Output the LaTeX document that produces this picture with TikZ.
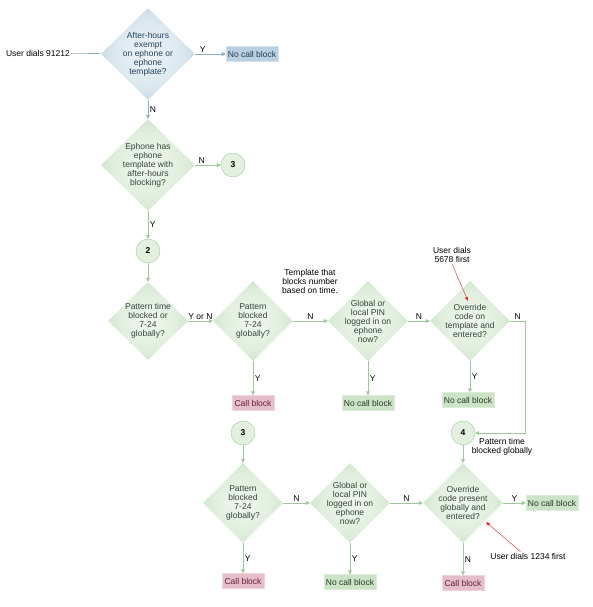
\documentclass[tikz,border=0pt]{standalone}
\usepackage{fontspec}
\setmainfont{Liberation Sans}
\usepackage{xcolor}
\usetikzlibrary{shapes.geometric,arrows.meta,positioning}
\definecolor{flowLine}{HTML}{9FC79B}
\definecolor{flowBlueLine}{HTML}{8DB2C8}
\definecolor{dmdLite}{HTML}{F0F7EE}
\definecolor{dmdDark}{HTML}{B3D6AE}
\definecolor{dmdText}{HTML}{34463A}
\definecolor{bdmdLite}{HTML}{EEF4F8}
\definecolor{bdmdDark}{HTML}{A4C3D6}
\definecolor{bdmdText}{HTML}{25435E}
\definecolor{blockFill}{HTML}{E4BECA}
\definecolor{blockDraw}{HTML}{EFD4DC}
\definecolor{blockText}{HTML}{6A1C3B}
\definecolor{okFill}{HTML}{CDE3C8}
\definecolor{okDraw}{HTML}{DDECD9}
\definecolor{okText}{HTML}{213C22}
\definecolor{okBlueFill}{HTML}{B8D0E0}
\definecolor{okBlueDraw}{HTML}{D3E2EC}
\definecolor{okBlueText}{HTML}{1F3E58}
\definecolor{conFill}{HTML}{E3F0E0}
\definecolor{dialRed}{HTML}{E8202A}
\newcommand\flowfont{\fontsize{8.5}{9}\selectfont}
\pgfdeclareradialshading{greenDmd}{\pgfpoint{0bp}{0bp}}{color(0bp)=(dmdLite);
  color(18bp)=(dmdLite!75!dmdDark); color(40bp)=(dmdDark); color(50bp)=(dmdDark)}
\pgfdeclareradialshading{blueDmd}{\pgfpoint{0bp}{0bp}}{color(0bp)=(bdmdLite);
  color(18bp)=(bdmdLite!75!bdmdDark); color(40bp)=(bdmdDark); color(50bp)=(bdmdDark)}
\tikzset{
  decision/.style={diamond,shade,shading=greenDmd,minimum width=80pt,
    minimum height=80pt,inner sep=-8pt,align=center,text=dmdText,font=\flowfont},
  bigdecision/.style={decision,minimum width=94pt,minimum height=92pt},
  bluedecision/.style={bigdecision,shading=blueDmd,text=bdmdText},
  callblock/.style={rectangle,draw=blockDraw,fill=blockFill,text=blockText,
    minimum height=15pt,inner xsep=2.5pt,inner ysep=0pt,font=\flowfont},
  noblock/.style={rectangle,draw=okDraw,fill=okFill,text=okText,
    minimum height=15pt,inner xsep=2pt,inner ysep=0pt,font=\flowfont},
  blueblock/.style={noblock,draw=okBlueDraw,fill=okBlueFill,text=okBlueText},
  connector/.style={circle,draw=flowLine,fill=conFill,minimum size=24pt,
    inner sep=0pt,font=\flowfont\bfseries},
  plain/.style={align=center,font=\flowfont,inner sep=1pt},
  flowlabel/.style={font=\flowfont,inner sep=1.5pt},
  arrow/.style={-{Triangle[length=4pt,width=4pt]},draw=flowLine,semithick},
  bluearrow/.style={arrow,draw=flowBlueLine},
  redarrow/.style={-{Triangle[length=4pt,width=3pt]},draw=dialRed,thin}
}
\begin{document}
\begin{tikzpicture}[x=1pt,y=1pt]
\useasboundingbox (0,0) rectangle (592,-607);
\node[bluedecision] (exempt) at (148,-54) {After-hours\\exempt\\on ephone or\\ephone\\template?};
\node[plain, anchor=east] (dialA) at (71,-53) {User dials 91212};
\node[blueblock, right of=exempt, node distance=104pt] (okA) {No call block};
\node[bigdecision, below of=exempt, node distance=111pt] (hastmpl) {Ephone has\\ephone\\template with\\after-hours\\blocking?};
\node[connector, right of=hastmpl, node distance=85pt] (conA) {3};
\node[connector, below of=hastmpl, node distance=86pt] (conB) {2};
\node[decision, below of=conB, node distance=70pt, minimum height=78pt] (pattime) {Pattern time\\blocked or\\7-24\\globally?};
\node[decision, right of=pattime, node distance=105pt] (patday) {Pattern\\blocked\\7-24\\globally?};
\node[callblock, below of=patday, node distance=82pt] (blockA) {Call block};
\node[plain] (tmplnote) at (310,-281) {Template that\\blocks number\\based on time.};
\node[decision, right of=patday, node distance=115pt] (pinA) {Global or\\local PIN\\logged in on\\ephone\\now?};
\node[noblock, below of=pinA, node distance=82pt] (okB) {No call block};
\node[decision, right of=pinA, node distance=102pt] (ovrA) {Override\\code on\\template and\\entered?};
\node[noblock, below of=ovrA, node distance=79pt, xshift=-2pt] (okC) {No call block};
\node[plain] (dialB) at (452,-255) {User dials\\5678 first};
\coordinate (tipB) at (468,-301);
\node[connector, below of=ovrA, node distance=112pt, xshift=-7pt] (conD) {4};
\node[plain] (globnote) at (502,-447) {Pattern time\\blocked globally};
\node[connector] (conC) at (243,-433) {3};
\node[decision, below of=conC, node distance=70pt] (patglob) {Pattern\\blocked\\7-24\\globally?};
\node[callblock, below of=patglob, node distance=78pt] (blockB) {Call block};
\node[decision, right of=patglob, node distance=107pt] (pinB) {Global or\\local PIN\\logged in on\\ephone\\now?};
\node[noblock, below of=pinB, node distance=79pt] (okD) {No call block};
\node[decision, right of=pinB, node distance=113pt] (ovrB) {Override\\code present\\globally and\\entered?};
\node[noblock, right of=ovrB, node distance=89pt] (okE) {No call block};
\node[callblock, below of=ovrB, node distance=80pt] (blockC) {Call block};
\node[plain] (dialC) at (528,-556) {User dials 1234 first};
\coordinate (tipC) at (486,-522);

\draw[draw=flowBlueLine, semithick] (dialA) -- (exempt);
\draw[bluearrow] (exempt) -- node[flowlabel, above, pos=0.25] {Y} (okA);
\draw[bluearrow] (exempt) -- node[flowlabel, right] {N} (hastmpl);
\draw[arrow] (hastmpl) -- node[flowlabel, above, pos=0.25] {N} (conA);
\draw[arrow] (hastmpl) -- node[flowlabel, right] {Y} (conB);
\draw[arrow] (conB) -- (pattime);
\draw[arrow] (pattime) -- node[flowlabel, above] {Y or N} (patday);
\draw[arrow] (patday) -- node[flowlabel, right] {Y} (blockA);
\draw[arrow] (patday) -- node[flowlabel, above] {N} (pinA);
\draw[arrow] (pinA) -- node[flowlabel, right] {Y} (okB);
\draw[arrow] (pinA) -- node[flowlabel, above] {N} (ovrA);
\draw[arrow] (ovrA.south) -- node[flowlabel, right] {Y} (okC.north -| ovrA.south);
\draw[arrow] (ovrA.east) -- ++(15,0) node[flowlabel, midway, above] {N} |- (conD);
\draw[redarrow] (dialB.south) -- (tipB);
\draw[arrow] (conD) -- (ovrB);
\draw[arrow] (conC) -- (patglob);
\draw[arrow] (patglob) -- node[flowlabel, right] {Y} (blockB);
\draw[arrow] (patglob) -- node[flowlabel, above] {N} (pinB);
\draw[arrow] (pinB) -- node[flowlabel, right] {Y} (okD);
\draw[arrow] (pinB) -- node[flowlabel, above] {N} (ovrB);
\draw[arrow] (ovrB) -- node[flowlabel, above] {Y} (okE);
\draw[arrow] (ovrB) -- node[flowlabel, right] {N} (blockC);
\draw[redarrow] (dialC.150) -- (tipC);
\end{tikzpicture}
\end{document}
